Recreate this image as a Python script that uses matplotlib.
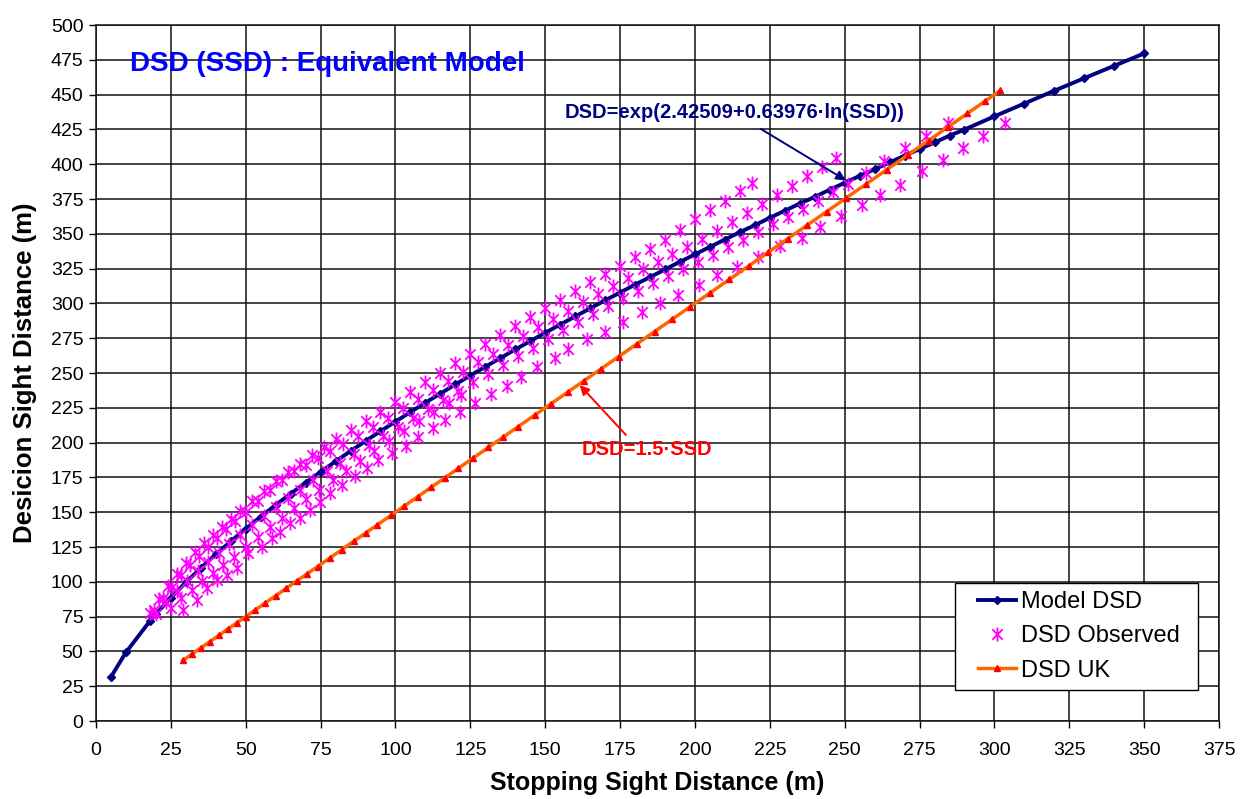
import matplotlib.pyplot as plt
from matplotlib.path import Path
from matplotlib.patches import Rectangle

plt.rcParams['font.family'] = ['Liberation Sans', 'DejaVu Sans']

# Model DSD curve
model_ssd = [5, 10, 18, 20, 25, 30, 35, 40, 45, 50, 55, 60, 65, 70, 75, 80, 85, 90, 95, 100,
             105, 110, 115, 120, 125, 130, 135, 140, 145, 150, 155, 160, 165, 170, 175, 180,
             185, 190, 195, 200, 205, 210, 215, 220, 225, 230, 235, 240, 245, 250, 255, 260,
             265, 270, 275, 280, 285, 290, 300, 310, 320, 330, 340, 350]
model_dsd = [31.7, 49.3, 71.8, 76.8, 88.6, 99.6, 109.9, 119.7, 129.1, 138.1, 146.8, 155.2, 163.3,
             171.2, 179.0, 186.5, 193.9, 201.1, 208.2, 215.1, 221.9, 228.7, 235.2, 241.8, 248.2,
             254.5, 260.7, 266.9, 272.9, 278.9, 284.8, 290.6, 296.4, 302.2, 307.8, 313.5, 318.9,
             324.4, 329.9, 335.2, 340.6, 345.9, 351.2, 356.2, 361.5, 366.6, 371.7, 376.5, 381.7,
             386.6, 391.6, 396.4, 401.3, 406.1, 410.9, 415.6, 420.5, 424.9, 434.4, 443.6, 452.8,
             461.8, 470.7, 479.6]

# DSD UK
uk_ssd = [29, 32, 35, 38, 41, 44, 47, 50, 53, 56.5, 60, 63.5, 67, 70.5, 74, 78, 82, 86, 90, 94,
          98.5, 103, 107.5, 112, 116.5, 121, 126, 131, 136, 141, 146.5, 152, 157.5, 163, 168.5,
          174.5, 180.5, 186.5, 192.5, 198.5, 205, 211.5, 218, 224.5, 231, 237.5, 244, 250.5,
          257, 264, 271, 278, 284.5, 291, 297, 302]
uk_dsd = [43.5, 48, 52.5, 57, 61.5, 66, 70.5, 75, 79.5, 84.75, 90, 95.25, 100.5, 105.75, 111,
          117, 123, 129, 135, 141, 147.75, 154.5, 161.25, 168, 174.75, 181.5, 189, 196.5, 204,
          211.5, 219.75, 228, 236.25, 244.5, 252.75, 261.75, 270.75, 279.75, 288.75, 297.75,
          307.5, 317.25, 327, 336.75, 346.5, 356.25, 366, 375.75, 385.5, 396, 406.5, 417,
          426.75, 436.5, 445.5, 453]

# DSD observed, read band by band (top to bottom)
obs_a_ssd = [18, 21, 24, 27, 30, 33, 36, 39, 42, 45, 48, 52, 56, 60, 64, 68, 72, 76, 80, 85, 90,
             95, 100, 105, 110, 115, 120, 125, 130, 135, 140, 145, 150, 155, 160, 165, 170, 175,
             180, 185, 190, 195, 200, 205, 210, 215, 219]
obs_a_dsd = [77.5, 88.0, 97.1, 105.7, 113.5, 121.2, 127.6, 133.7, 139.6, 145.2, 150.7, 157.9,
             165.5, 172.3, 178.7, 184.9, 191.3, 197.1, 202.7, 209.4, 215.8, 222.1, 228.9, 236.1,
             243.3, 250.3, 257.3, 263.8, 270.5, 277.1, 283.7, 290.1, 296.5, 302.7, 308.9, 315.1,
             321.2, 327.2, 333.3, 339.3, 345.8, 353.0, 360.3, 367.2, 373.9, 380.7, 386.2]

obs_b_ssd = [19.5, 22.5, 25.5, 28.5, 31.5, 34.5, 37.5, 40.5, 43.5, 46.5, 50, 54, 58, 62, 66, 70,
             74, 78, 82.5, 87.5, 92.5, 97.5, 102.5, 107.5, 112.5, 117.5, 122.5, 127.5, 132.5,
             137.5, 142.5, 147.5, 152.5, 157.5, 162.5, 167.5, 172.5, 177.5, 182.5, 187.5, 192.5,
             197.5, 202.5, 207.5, 212.5, 217.5, 222.5, 227.5, 232.5, 237.5, 242.5, 247]
obs_b_dsd = [79.4, 88.2, 96.5, 104.6, 112.0, 118.7, 125.2, 131.5, 137.7, 143.7, 150.5, 158.1,
             165.8, 173.2, 179.4, 184.2, 189.2, 194.2, 198.8, 204.4, 211.4, 218.0, 224.8, 231.6,
             238.0, 244.2, 250.4, 257.7, 264.0, 270.4, 276.6, 282.8, 288.8, 294.9, 300.8, 306.8,
             312.6, 318.5, 324.4, 330.1, 335.4, 340.5, 346.3, 352.2, 358.4, 364.7, 371.1, 377.9,
             384.7, 391.3, 398.1, 404.3]

obs_d_ssd = [20, 23.5, 27, 30.5, 34, 37.5, 41, 44.5, 48, 52, 56, 60, 64, 68, 72.5, 77, 81.5, 86,
             91, 96, 101, 106, 111, 116, 121, 126, 131, 136, 141, 146, 151, 156, 161, 166, 171,
             176, 181, 186, 191, 196, 201, 206, 211, 216, 221, 226, 231, 236, 241, 246, 251,
             257, 263, 270, 277, 284.5]
obs_d_dsd = [76.8, 85.2, 93.1, 100.4, 107.6, 114.4, 121.0, 127.5, 133.7, 140.6, 147.3, 153.8,
             160.1, 166.3, 172.8, 179.3, 185.5, 191.6, 198.2, 204.8, 211.3, 217.7, 224.3, 230.6,
             237.0, 243.3, 249.3, 255.6, 261.9, 268.1, 274.4, 280.6, 286.5, 292.5, 298.1, 303.6,
             309.2, 314.6, 319.6, 324.7, 329.9, 334.9, 340.4, 345.9, 351.2, 356.7, 362.1, 367.9,
             373.7, 380.0, 386.1, 393.6, 402.1, 411.4, 420.2, 429.4]

obs_e_ssd = [25, 28.5, 32, 35.5, 39, 42.5, 46, 50, 54, 58, 62, 66, 70, 74.5, 79, 83.5, 88, 93,
             98, 103, 108, 113, 118, 122]
obs_e_dsd = [81.5, 88.2, 94.4, 100.4, 106.0, 112.0, 118.1, 125.0, 132.0, 139.4, 146.1, 152.7,
             159.3, 166.3, 173.2, 179.7, 186.7, 194.1, 201.4, 208.5, 215.4, 222.1, 228.8, 234.1]

obs_c_ssd = [29, 33.6, 37, 40.3, 43.6, 47, 50.9, 55.3, 58.7, 61.4, 64.8, 68.1, 71.5, 74.8, 78.1,
             82, 86.5, 90.4, 94.3, 98.7, 103.5, 107.6, 112.6, 116.5, 121.5, 126.5, 131.8, 137.1,
             141.8, 147.1, 153.3, 157.7, 163.8, 169.9, 176.1, 182.2, 188.3, 194.2, 201.4, 207.4,
             214.2, 221.1, 228.3, 235.6, 241.7, 248.7, 255.7, 261.8, 268.4, 275.7, 282.9, 289.6,
             296.3, 303.5]
obs_c_dsd = [79.7, 86.9, 95.5, 101.3, 104.9, 109.9, 120.7, 125.2, 131.2, 136, 142, 145.6, 151.6,
             157.5, 163.6, 169.5, 176, 181.5, 187.5, 192.3, 197.6, 203.7, 210.2, 216.2, 222.2,
             228.6, 234.9, 240.7, 246.9, 254.1, 260.6, 267, 274.2, 279.7, 286.9, 294, 300.5,
             306, 313.2, 320.4, 326.4, 333.6, 341, 346.8, 355, 362.8, 370.7, 377.9, 385, 395.3,
             403, 411.4, 420.3, 429.8]

obs_ssd = obs_a_ssd + obs_b_ssd + obs_d_ssd + obs_e_ssd + obs_c_ssd
obs_dsd = obs_a_dsd + obs_b_dsd + obs_d_dsd + obs_e_dsd + obs_c_dsd

NAVY = '#000080'
MAGENTA = '#FF00FF'

# asterisk like Excel's: vertical bar plus an X
star = Path([(0, -1), (0, 1), (-0.75, -0.75), (0.75, 0.75), (-0.75, 0.75), (0.75, -0.75)],
            [Path.MOVETO, Path.LINETO, Path.MOVETO, Path.LINETO, Path.MOVETO, Path.LINETO])

fig = plt.figure(figsize=(12.48, 7.99), dpi=100)
ax = fig.add_axes([0.0769, 0.0976, 0.8999, 0.8711])

ax.plot(model_ssd, model_dsd, color=NAVY, lw=2.8, marker='D', ms=4,
        mfc=NAVY, mec=NAVY, label='Model DSD', zorder=3)
ax.plot(obs_ssd, obs_dsd, ls='none', marker=star, ms=10, mfc='none', mec=MAGENTA,
        mew=1.3, label='DSD Observed', zorder=4)
ax.plot(uk_ssd, uk_dsd, color='#FF6600', lw=2.5, marker='^', ms=5,
        mfc='#FF0000', mec='#FF0000', label='DSD UK', zorder=5)

ax.set_xlim(0, 375)
ax.set_ylim(0, 500)
ax.set_xticks(range(0, 376, 25))
ax.set_yticks(range(0, 501, 25))
ax.grid(True, color='#111111', lw=1.1)
ax.set_axisbelow(True)
for sp in ax.spines.values():
    sp.set_color('#111111')
    sp.set_linewidth(1.1)
ax.tick_params(direction='out', length=5, width=1.0, labelsize=14, pad=4)
ax.tick_params(axis='x', pad=10)

ax.set_xlabel('Stopping Sight Distance (m)', fontsize=18, fontweight='bold', labelpad=9)
ax.set_ylabel('Desicion Sight Distance (m)', fontsize=18.5, fontweight='bold', labelpad=10)

ax.text(11.3, 472, 'DSD (SSD) : Equivalent Model', color='#0000FF', fontsize=20,
        fontweight='bold', va='center', ha='left')

ax.text(156.6, 436.8, 'DSD=exp(2.42509+0.63976\u00b7ln(SSD))', color=NAVY, fontsize=14.5,
        fontweight='bold', va='center', ha='left')
ax.annotate('', xy=(251.2, 387.4), xytext=(221.1, 426.5),
            arrowprops=dict(arrowstyle='-|>', color=NAVY, lw=1.4, mutation_scale=14),
            zorder=6)

ax.text(162.3, 195.4, 'DSD=1.5\u00b7SSD', color='#FF0000', fontsize=14.5,
        fontweight='bold', va='center', ha='left')
ax.annotate('', xy=(160.9, 242.8), xytext=(177.6, 204),
            arrowprops=dict(arrowstyle='-|>', color='#FF0000', lw=1.4, mutation_scale=14),
            zorder=6)

# legend box drawn by hand so padding matches the original
box = Rectangle((955 / 1248, 1 - 690 / 799), 243 / 1248, 107 / 799, transform=fig.transFigure,
                facecolor='white', edgecolor='black', lw=1.0, zorder=8)
fig.add_artist(box)
leg = fig.legend(*ax.get_legend_handles_labels(), loc='upper left',
                 bbox_to_anchor=(978 / 1248, 1 - 591 / 799), borderaxespad=0, borderpad=0,
                 fontsize=17, frameon=False, handlelength=1.6, handletextpad=0.22,
                 labelspacing=0.52)
leg.set_zorder(9)

fig.savefig('out.png', dpi=100)
